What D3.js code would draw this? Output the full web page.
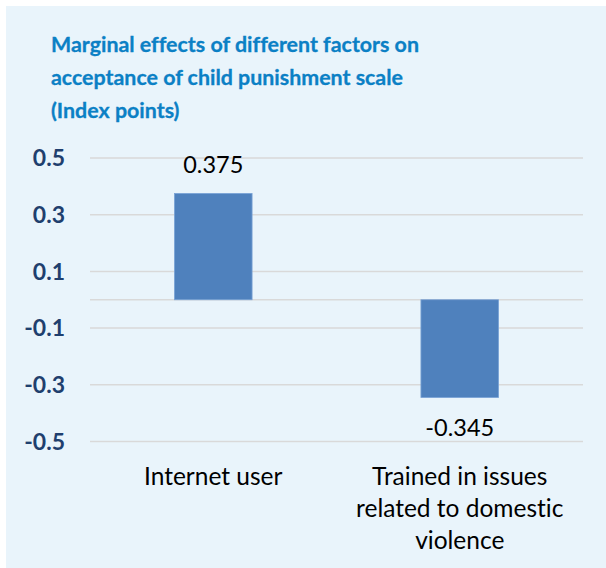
<!DOCTYPE html>
<html>
<head>
<meta charset="utf-8">
<script src="https://cdn.jsdelivr.net/npm/d3@7"></script>
<style>
  body { margin: 0; background: #fff; }
  svg { display: block; }
  text { font-variant-ligatures: none; }
</style>
</head>
<body>
<div id="chart"></div>
<script>
// data
const categories = ["Internet user", "Trained in issues related to domestic violence"];
const categoryLines = [["Internet user"], ["Trained in issues", "related to domestic", "violence"]];
const values = [0.375, -0.345];
const labels = ["0.375", "-0.345"];
const tickValues = [0.5, 0.3, 0.1, -0.1, -0.3, -0.5];
const tickLabels = ["0.5", "0.3", "0.1", "-0.1", "-0.3", "-0.5"];
const titleLines = [
  "Marginal effects of different factors on",
  "acceptance of child punishment scale",
  "(Index points)"
];

const width = 606, height = 568;
const font = "Lato, 'Open Sans', sans-serif";

const svg = d3.select("#chart").append("svg")
  .attr("width", width)
  .attr("height", height);

// panel background
svg.append("rect")
  .attr("x", 6).attr("y", 6)
  .attr("width", width - 6).attr("height", height - 6)
  .attr("fill", "#e9f4fb");

// title
svg.append("text")
  .attr("font-family", font)
  .attr("font-weight", "bold")
  .attr("font-size", "21.4px")
  .attr("fill", "#0b80c5")
  .attr("stroke", "#0b80c5")
  .attr("stroke-width", 0.3)
  .selectAll("tspan")
  .data(titleLines)
  .join("tspan")
  .attr("x", 51)
  .attr("y", (d, i) => 52 + i * 33)
  .text(d => d);

// scales
const y = d3.scaleLinear().domain([-0.5, 0.5]).range([441.5, 158]);
const x = d3.scaleBand().domain(categories).range([90, 583]).padding(0);
const barW = x.bandwidth() * 0.315;

// gridlines
svg.append("g")
  .selectAll("line")
  .data(tickValues.concat([0]))
  .join("line")
  .attr("x1", 90).attr("x2", 583)
  .attr("y1", d => y(d)).attr("y2", d => y(d))
  .attr("stroke", "#d9d9d9")
  .attr("stroke-width", 1.5);

// y axis labels
svg.append("g")
  .selectAll("text")
  .data(tickValues)
  .join("text")
  .attr("x", 65)
  .attr("y", d => y(d))
  .attr("dy", "0.36em")
  .attr("text-anchor", "end")
  .attr("font-family", font)
  .attr("font-weight", "bold")
  .attr("font-size", "23px")
  .attr("fill", "#1f3f6e")
  .text((d, i) => tickLabels[i]);

// bars
svg.append("g")
  .selectAll("rect")
  .data(values)
  .join("rect")
  .attr("x", (d, i) => x(categories[i]) + x.bandwidth() / 2 - barW / 2)
  .attr("y", d => y(Math.max(0, d)))
  .attr("width", barW)
  .attr("height", d => Math.abs(y(d) - y(0)))
  .attr("fill", "#4f81bd")
  .attr("stroke", "#7aa3d6")
  .attr("stroke-width", 0.8);

// value labels
svg.append("g")
  .selectAll("text")
  .data(values)
  .join("text")
  .attr("x", (d, i) => x(categories[i]) + x.bandwidth() / 2)
  .attr("y", d => d >= 0 ? y(d) - 20 : y(d) + 38)
  .attr("text-anchor", "middle")
  .attr("font-family", font)
  .attr("font-size", "23.5px")
  .attr("fill", "#000")
  .text((d, i) => labels[i]);

// category labels
categories.forEach((c, i) => {
  svg.append("text")
    .attr("text-anchor", "middle")
    .attr("font-family", font)
    .attr("font-size", "24.5px")
    .attr("fill", "#000")
    .selectAll("tspan")
    .data(categoryLines[i])
    .join("tspan")
    .attr("x", x(c) + x.bandwidth() / 2)
    .attr("y", (d, j) => 485 + j * 32)
    .text(d => d);
});
</script>
</body>
</html>
